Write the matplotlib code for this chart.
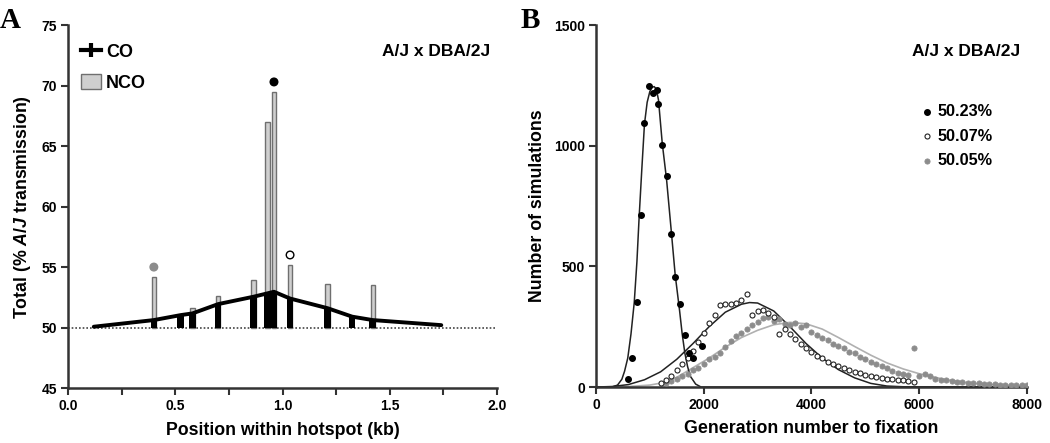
import numpy as np
import matplotlib
matplotlib.use("Agg")
import matplotlib.pyplot as plt
from matplotlib.lines import Line2D
from matplotlib.patches import Patch

plt.rcParams['font.family'] = ['Liberation Sans', 'DejaVu Sans']
plt.rcParams['font.weight'] = 'bold'
plt.rcParams['mathtext.fontset'] = 'custom'
plt.rcParams['mathtext.it'] = 'Liberation Sans:italic:bold'
plt.rcParams['mathtext.rm'] = 'Liberation Sans:bold'

# ---- panel A data ----
co_pos = [0.12, 0.40, 0.525, 0.58, 0.70, 0.865, 0.93, 0.96, 1.035, 1.21, 1.325, 1.42, 1.74]
co_val = [50.07, 50.62, 51.03, 51.17, 51.94, 52.55, 52.83, 52.96, 52.40, 51.60, 50.90, 50.62, 50.20]
co_bar = [False, True, True, True, True, True, True, True, True, True, True, True, False]

nco_pos = [0.40, 0.58, 0.70, 0.865, 0.93, 0.96, 1.035, 1.21, 1.42]
nco_val = [54.2, 51.6, 52.6, 53.9, 67.0, 69.5, 55.2, 53.6, 53.5]

sig_pos = [0.40, 0.96, 1.035]
sig_val = [55.0, 70.3, 56.0]
sig_face = ['#8c8c8c', 'black', 'white']

# ---- panel B data ----
x_023 = [588, 674, 755, 830, 896, 984, 1063, 1127, 1156, 1225, 1312, 1392, 1472, 1559, 1646, 1720, 1806, 1967]
y_023 = [32, 119, 351, 713, 1093, 1249, 1220, 1231, 1173, 1003, 874, 633, 455, 343, 215, 140, 119, 170]

x_007 = list(range(1200, 6000, 100))
y_007 = [15, 30, 45, 70, 95, 120, 150, 185, 225, 265, 300, 340, 345, 345, 350, 360, 385,
         300, 315, 320, 305, 290, 220, 240, 220, 200, 180, 160, 145, 130, 120, 105, 95, 85,
         78, 70, 62, 56, 50, 46, 42, 38, 35, 32, 30, 28, 24, 20]

x_005 = list(range(1300, 8100, 100))
y_005 = [15, 25, 35, 45, 55, 70, 80, 95, 115, 125, 140, 165, 190, 210, 225, 240, 255, 270,
         285, 290, 275, 280, 260, 255, 265, 250, 255, 230, 215, 205, 195, 180, 170, 160, 145,
         140, 125, 115, 105, 95, 85, 80, 65, 60, 55, 50, 160, 45, 55, 45, 35, 30, 28, 25, 22,
         20, 18, 17, 15, 13, 12, 11, 10, 9, 9, 8, 8, 7]

fit023_x = [0, 300, 400, 480, 530, 590, 650, 710, 760, 800, 850, 900, 950, 1000, 1040, 1080, 1120,
            1160, 1230, 1310, 1400, 1470, 1550, 1600, 1650, 1700, 1750, 1850, 1950, 8000]
fit023_y = [0, 0, 8, 32, 65, 120, 220, 350, 520, 700, 900, 1090, 1180, 1225, 1242, 1245, 1235,
            1190, 1010, 860, 640, 465, 320, 220, 140, 85, 45, 12, 0, 0]

fit007_x = [0, 300, 600, 900, 1200, 1500, 1800, 2100, 2400, 2700, 2850, 3000, 3300, 3600,
            3900, 4200, 4500, 4800, 5100, 5400, 5700, 8000]
fit007_y = [0, 2, 10, 30, 63, 115, 180, 250, 310, 343, 350, 348, 315, 250, 180, 120, 72,
            38, 15, 4, 1, 0]

fit005_x = [0, 600, 1000, 1200, 1500, 1800, 2100, 2400, 2700, 3000, 3300, 3600, 3900, 4200,
            4500, 4800, 5100, 5400, 5700, 6000, 6500, 7000, 7500, 8000]
fit005_y = [0, 2, 8, 16, 40, 80, 120, 165, 205, 235, 258, 268, 262, 240, 205, 168, 132, 100,
            75, 55, 30, 15, 8, 5]

fig = plt.figure(figsize=(10.5, 4.43), dpi=100)
axA = fig.add_axes([0.0648, 0.124, 0.4086, 0.8194])
axB = fig.add_axes([0.5676, 0.1264, 0.4105, 0.817])

axcol = '#333333'
for ax in (axA, axB):
    for s in ('top', 'right'):
        ax.spines[s].set_visible(False)
    for s in ('left', 'bottom'):
        ax.spines[s].set_linewidth(1.8)
        ax.spines[s].set_color(axcol)
    ax.tick_params(width=1.5, length=5, color=axcol, labelsize=10, pad=3)

# ---- panel A ----
axA.axhline(50, color='#444444', lw=1.2, ls=(0, (1, 1.2)), zorder=1)
axA.bar(nco_pos, [v - 50 for v in nco_val], bottom=50, width=0.02,
        color='#cfcfcf', edgecolor='#6f6f6f', linewidth=1.0, zorder=2)
bp = [p for p, b in zip(co_pos, co_bar) if b]
bv = [v - 50 for v, b in zip(co_val, co_bar) if b]
axA.bar(bp, bv, bottom=50, width=0.03, color='black', zorder=3)
axA.plot(co_pos, co_val, color='black', lw=2.8, solid_capstyle='round', zorder=4)
axA.scatter(sig_pos, sig_val, s=30, c=sig_face, edgecolors=['#8c8c8c', 'black', 'black'],
            linewidths=1.0, zorder=5)
axA.set_xlim(0, 2.0)
axA.set_ylim(45, 75)
axA.set_xticks([0.0, 0.5, 1.0, 1.5, 2.0])
axA.set_xticklabels(['0.0', '0.5', '1.0', '1.5', '2.0'])
axA.set_xticks(np.arange(0.25, 2.0, 0.5), minor=True)
axA.tick_params(which='minor', width=1.5, length=5, color=axcol)
axA.set_yticks(range(45, 80, 5))
axA.set_xlabel('Position within hotspot (kb)', fontsize=12.8, fontweight='bold', labelpad=6)
axA.set_ylabel('Total (% $\\mathit{A/J}$ transmission)', fontsize=12.8, fontweight='bold', labelpad=6)
axA.text(0.984, 0.926, 'A/J x DBA/2J', transform=axA.transAxes, ha='right', va='center',
         fontsize=12.5, fontweight='bold')
hA = [Line2D([0], [0], color='black', lw=3, marker='|', markersize=10, markeredgewidth=3),
      Patch(facecolor='#cfcfcf', edgecolor='#6f6f6f', linewidth=1.0)]
legA = axA.legend(hA, ['CO', 'NCO'], loc='upper left', bbox_to_anchor=(0.0, 0.985),
                  frameon=False, fontsize=13, handlelength=1.1, handleheight=0.9,
                  labelspacing=0.75, handletextpad=0.3, borderaxespad=0.3)
for t in legA.get_texts():
    t.set_fontweight('bold')

# ---- panel B ----
axB.plot(fit005_x, fit005_y, color='#b0b0b0', lw=1.2, zorder=2)
axB.plot(fit007_x, fit007_y, color='#222222', lw=1.1, zorder=2)
axB.plot(fit023_x, fit023_y, color='#222222', lw=1.1, zorder=2)
axB.scatter(x_005, y_005, s=14, c='#8c8c8c', edgecolors='#8c8c8c', linewidths=0.6,
            zorder=3, label='50.05%')
axB.scatter(x_007, y_007, s=13, facecolors='white', edgecolors='#222222', linewidths=0.8,
            zorder=4, label='50.07%')
axB.scatter(x_023, y_023, s=16, c='black', zorder=5, label='50.23%')
axB.set_xlim(0, 8000)
axB.set_ylim(0, 1500)
axB.set_xticks(range(0, 8001, 2000))
axB.set_yticks(range(0, 1501, 500))
axB.set_xlabel('Generation number to fixation', fontsize=12.8, fontweight='bold', labelpad=6)
axB.set_ylabel('Number of simulations', fontsize=12.8, fontweight='bold', labelpad=6)
axB.text(0.984, 0.926, 'A/J x DBA/2J', transform=axB.transAxes, ha='right', va='center',
         fontsize=12.5, fontweight='bold')
h, l = axB.get_legend_handles_labels()
legB = axB.legend(h[::-1], l[::-1], loc='upper left', bbox_to_anchor=(0.735, 0.80),
                  frameon=False, fontsize=11.7, handletextpad=0.1, labelspacing=0.6,
                  borderaxespad=0, handlelength=1.0)
for t in legB.get_texts():
    t.set_fontweight('bold')

fig.text(0.0, 0.985, 'A', fontsize=21, fontweight='bold', family='Liberation Serif', va='top')
fig.text(0.496, 0.985, 'B', fontsize=21, fontweight='bold', family='Liberation Serif', va='top')

fig.savefig('out.png', dpi=100)
